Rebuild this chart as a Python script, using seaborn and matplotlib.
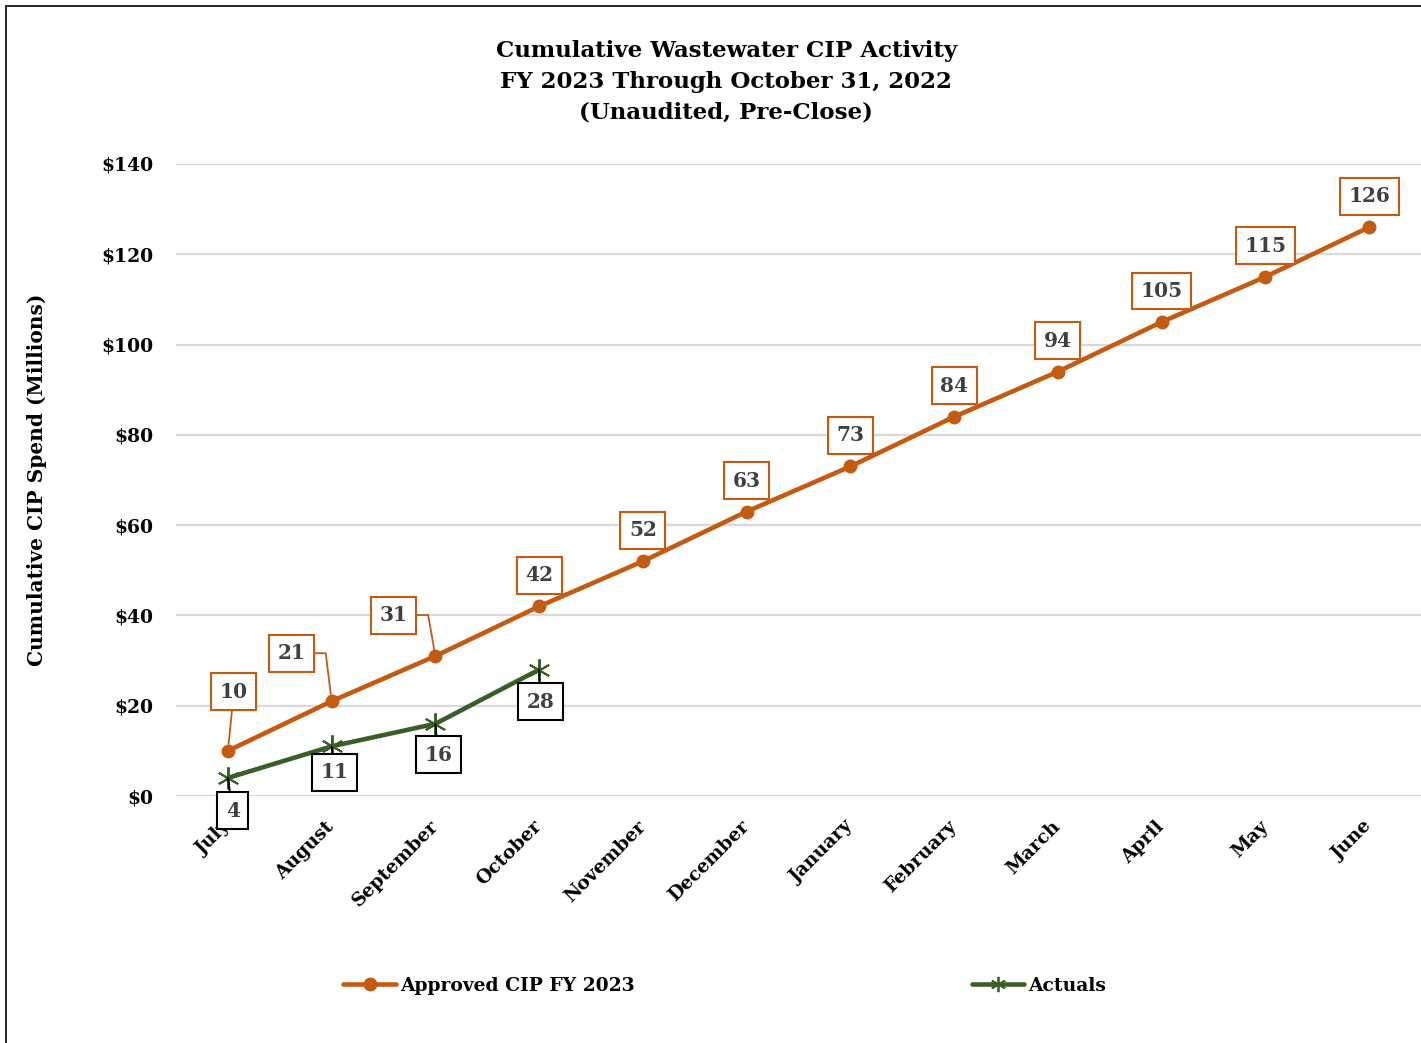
import matplotlib
matplotlib.use("Agg")
import matplotlib.pyplot as plt
import seaborn as sns
from matplotlib.lines import Line2D

# donnees
months = ["July", "August", "September", "October", "November", "December",
          "January", "February", "March", "April", "May", "June"]
approved = [10, 21, 31, 42, 52, 63, 73, 84, 94, 105, 115, 126]
actuals = [4, 11, 16, 28]
y_ticks = [0, 20, 40, 60, 80, 100, 120, 140]

ORANGE = "#C55A11"
GREEN = "#3B5E27"
GRID = "#D9D9D9"
LABEL_GRAY = "#404040"

sns.set_theme(style="white")
plt.rcParams["font.family"] = ["DejaVu Serif"]
plt.rcParams["font.weight"] = "bold"
plt.rcParams["text.color"] = "black"
plt.rcParams["axes.labelcolor"] = "black"
plt.rcParams["xtick.color"] = "black"
plt.rcParams["ytick.color"] = "black"

fig = plt.figure(figsize=(14.21, 10.43), dpi=100)
ax = fig.add_axes([176 / 1421, 1 - 796 / 1043, 1 - 176 / 1421, (796 - 164) / 1043])

sns.lineplot(x=months, y=approved, ax=ax, sort=False, color=ORANGE, linewidth=3.3,
             marker="o", markersize=10, markeredgewidth=0, label="Approved CIP FY 2023")
sns.lineplot(x=months[:len(actuals)], y=actuals, ax=ax, sort=False, color=GREEN,
             linewidth=3.3, marker=(6, 2, 0), markersize=16, markeredgewidth=1.4,
             markeredgecolor=GREEN, label="Actuals")
ax.get_legend().remove()

ax.set_xlim(-0.5, len(months) - 0.5)
ax.set_ylim(0, 140)
ax.set_yticks(y_ticks)
ax.set_yticklabels([f"${v}" for v in y_ticks])
ax.yaxis.grid(True, color=GRID, linewidth=1.6)
ax.set_axisbelow(True)
for s in ax.spines.values():
    s.set_visible(False)
ax.tick_params(axis="both", length=0, labelsize=13.5, labelcolor="black")
ax.tick_params(axis="y", pad=16)
ax.tick_params(axis="x", pad=20)
for lab in ax.get_xticklabels():
    lab.set_rotation(45)
    lab.set_ha("right")
    lab.set_va("center")
    lab.set_rotation_mode("anchor")
    lab.set_fontweight("bold")
for lab in ax.get_yticklabels():
    lab.set_fontweight("bold")

ax.set_xlabel("")
ax.set_ylabel("Cumulative CIP Spend (Millions)", fontsize=14.5, fontweight="bold",
              labelpad=39, color="black")

# etiquettes de donnees (decalages en pixels)
px = 0.72
orange_off = [(6, 59), (-40, 48), (-42, 41)] + [(0, 31)] * (len(approved) - 3)
leaders = {0: "arc3,rad=0",
           1: "angle,angleA=0,angleB=97,rad=0",
           2: "angle,angleA=0,angleB=100,rad=0"}
for i, (v, (dx, dy)) in enumerate(zip(approved, orange_off)):
    arrow = None
    if i in leaders:
        arrow = dict(arrowstyle="-", color=ORANGE, lw=1.3, shrinkA=0, shrinkB=5,
                     connectionstyle=leaders[i])
    ax.annotate(str(v), xy=(i, v), xytext=(dx * px, dy * px), textcoords="offset points",
                ha="center", va="center", fontsize=14.5, fontweight="bold", color=LABEL_GRAY,
                bbox=dict(boxstyle="square,pad=0.42", fc="white", ec=ORANGE, lw=1.5),
                arrowprops=arrow)

green_off = [(5, -33), (3, -26), (3, -31), (1, -32)]
for i, (v, (dx, dy)) in enumerate(zip(actuals, green_off)):
    ax.annotate(str(v), xy=(i, v), xytext=(dx * px, dy * px), textcoords="offset points",
                ha="center", va="center", fontsize=14.5, fontweight="bold", color=LABEL_GRAY,
                bbox=dict(boxstyle="square,pad=0.42", fc="white", ec="black", lw=1.5),
                arrowprops=dict(arrowstyle="-", color="black", lw=1.3, shrinkA=0, shrinkB=0),
                zorder=5)

fig.text(0.511, 1 - 82 / 1043, "Cumulative Wastewater CIP Activity\n"
         "FY 2023 Through October 31, 2022\n(Unaudited, Pre-Close)",
         ha="center", va="center", fontsize=16.5, fontweight="bold", linespacing=1.5,
         color="black")

handles = [Line2D([], [], color=ORANGE, lw=3.3, marker="o", markersize=10, markeredgewidth=0),
           Line2D([], [], color=GREEN, lw=3.3, marker=(6, 2, 0), markersize=11,
                  markeredgewidth=1.3, markeredgecolor=GREEN)]
fig.legend(handles, ["Approved CIP FY 2023", "Actuals"], loc="center",
           bbox_to_anchor=(0.51, 1 - 986 / 1043), ncol=2, frameon=False,
           handlelength=2.8, handletextpad=0.2, columnspacing=18,
           prop=dict(weight="bold", size=13.5), labelcolor="black")

# cadre du graphique
fig.add_artist(Line2D([6 / 1421, 6 / 1421], [0, 1 - 6 / 1043], color="black", lw=1.2,
                      transform=fig.transFigure))
fig.add_artist(Line2D([6 / 1421, 1], [1 - 6 / 1043, 1 - 6 / 1043], color="black", lw=1.2,
                      transform=fig.transFigure))

fig.savefig("out.png", dpi=100)
